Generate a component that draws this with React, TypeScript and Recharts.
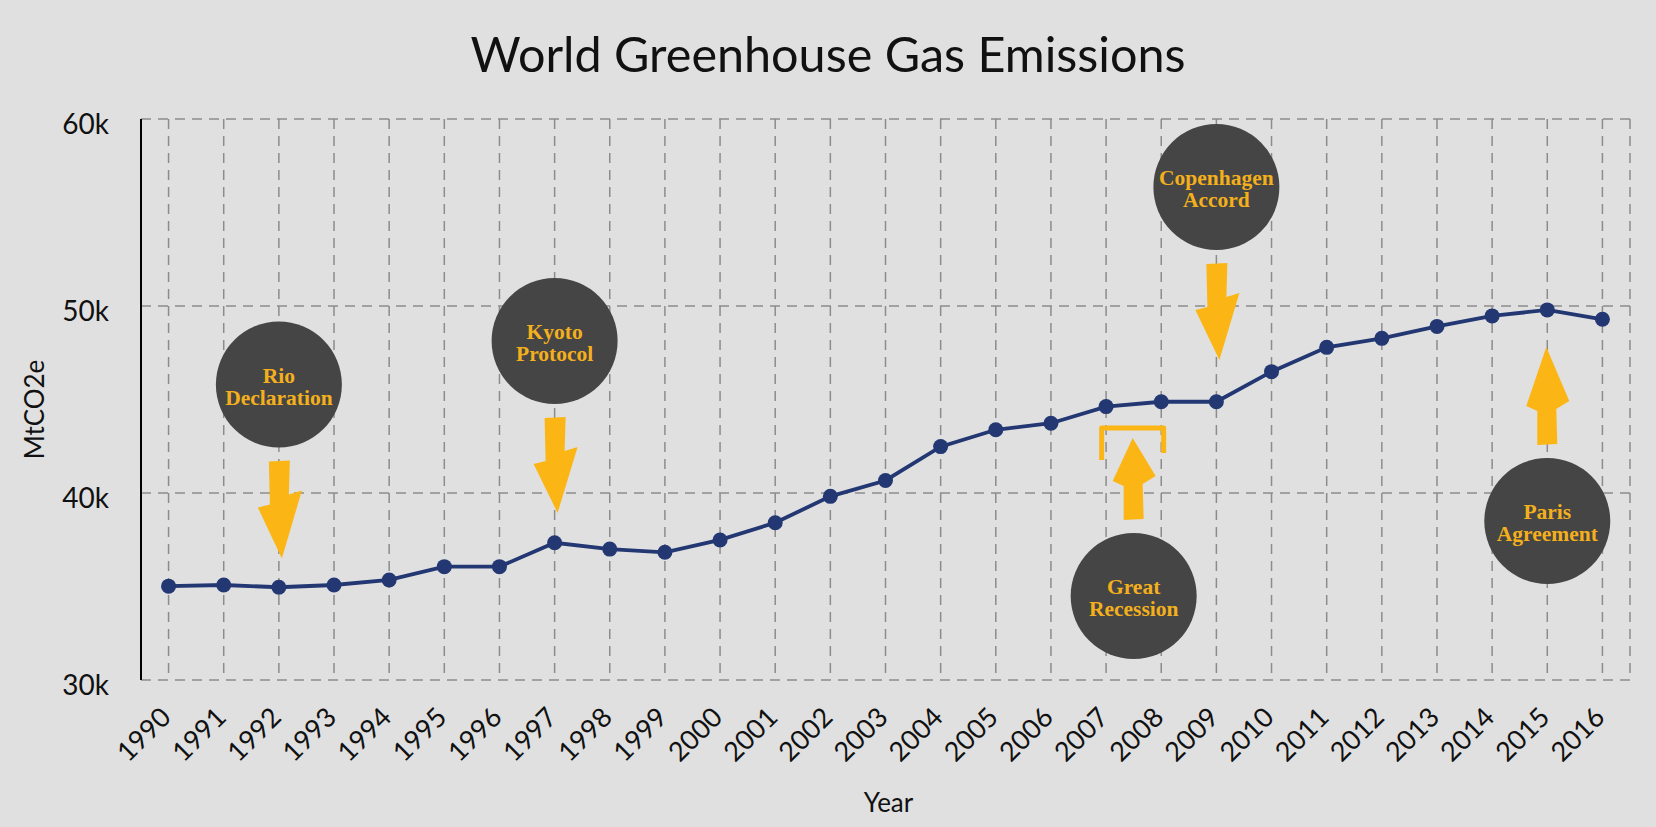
import { LineChart, Line, XAxis, YAxis, CartesianGrid, ReferenceDot, Label } from 'recharts';

const years = [
  1990, 1991, 1992, 1993, 1994, 1995, 1996, 1997, 1998, 1999, 2000, 2001, 2002, 2003,
  2004, 2005, 2006, 2007, 2008, 2009, 2010, 2011, 2012, 2013, 2014, 2015, 2016,
];
const emissions = [
  35020, 35080, 34960, 35080, 35350, 36060, 36060, 37340, 37000, 36830, 37490, 38410, 39820, 40670,
  42480, 43380, 43730, 44620, 44880, 44880, 46490, 47790, 48270, 48910, 49470, 49790, 49290,
];
const yTicks = [30000, 40000, 50000, 60000];

// milestone badges: text, where the badge sits (year, MtCO2e), arrow direction
const noteText = [
  ['Rio', 'Declaration'],
  ['Kyoto', 'Protocol'],
  ['Copenhagen', 'Accord'],
  ['Great', 'Recession'],
  ['Paris', 'Agreement'],
];
const noteYear = [1992, 1997, 2009, 2007.5, 2015];
const noteLevel = [45800, 48130, 56360, 34490, 38500];
const notePointsUp = [false, false, false, true, true];

const data = years.map((year, i) => ({ year, value: emissions[i] }));

const BG = '#e0e0e0';
const NAVY = '#233873';
const GOLD = '#fbb616';
const BADGE = '#454545';
const GRID = '#8c8c8c';
const FONT = 'Lato, sans-serif';

// arrow reach (px from badge centre to tip)
const arrowReach = [174, 172, 173, 158, 174];

function arrowPoints(up: boolean, reach: number) {
  return up
    ? [[-10, -76], [10, -77], [9, -112], [22, -120], [-1, -reach], [-21, -115], [-10, -110]]
    : [[-10, 77], [11, 76], [10, 110], [23, 106], [3, reach], [-21, 123], [-9, 120]];
}

function Badge(props: any) {
  const { cx, cy, idx } = props;
  const up = notePointsUp[idx];
  const pts = arrowPoints(up, arrowReach[idx])
    .map(([dx, dy]) => `${cx + dx},${cy + dy}`)
    .join(' ');
  const [l1, l2] = noteText[idx];
  return (
    <g>
      <circle cx={cx} cy={cy} r={63} fill={BADGE} />
      <text
        x={cx}
        y={cy - 2}
        textAnchor="middle"
        fill="#f4b01c"
        fontFamily="'Liberation Serif', serif"
        fontWeight="bold"
        fontSize={21.5}
      >
        <tspan x={cx}>{l1}</tspan>
        <tspan x={cx} dy={22}>{l2}</tspan>
      </text>
      <polygon points={pts} fill={GOLD} />
      {idx === 3 && (
        <path
          d={`M${cx - 32},${cy - 136} L${cx - 32},${cy - 168} L${cx + 30},${cy - 168} L${cx + 30},${cy - 143}`}
          fill="none"
          stroke={GOLD}
          strokeWidth={5}
          strokeLinejoin="round"
        />
      )}
    </g>
  );
}

function YearTick({ x, y, payload }: any) {
  return (
    <g transform={`translate(${x + 4},${y + 31})`}>
      <text textAnchor="end" transform="rotate(-45)" fontFamily={FONT} fontSize={27} fill="#111">
        {payload.value}
      </text>
    </g>
  );
}

function ValueTick({ x, y, payload }: any) {
  return (
    <text x={x} y={y + 15} textAnchor="end" fontFamily={FONT} fontSize={28} fill="#111">
      {`${payload.value / 1000}k`}
    </text>
  );
}

export default function App() {
  return (
    <div style={{ position: 'absolute', left: 0, top: 0, width: 1656, height: 827, background: BG }}>
      <div
        style={{
          position: 'absolute',
          left: 0,
          top: 29,
          width: 1656,
          textAlign: 'center',
          fontFamily: FONT,
          fontSize: 48.5,
          lineHeight: '48px',
          color: '#111',
        }}
      >
        World Greenhouse Gas Emissions
      </div>
      <LineChart
        width={1656}
        height={827}
        data={data}
        margin={{ top: 119, right: 26, bottom: 0, left: 0 }}
      >
        <CartesianGrid stroke={GRID} strokeWidth={1.5} strokeDasharray="10 7" />
        <XAxis
          dataKey="year"
          type="number"
          domain={[1989.5, 2016.5]}
          ticks={years}
          interval={0}
          height={147}
          axisLine={false}
          tickLine={false}
          tick={<YearTick />}
        >
          <Label
            content={({ viewBox }: any) => (
              <text
                x={viewBox.x + viewBox.width / 2 + 3}
                y={812}
                textAnchor="middle"
                fontFamily={FONT}
                fontSize={26}
                fill="#111"
              >
                Year
              </text>
            )}
          />
        </XAxis>
        <YAxis
          domain={[30000, 60000]}
          ticks={yTicks}
          width={141}
          axisLine={{ stroke: '#000', strokeWidth: 2 }}
          tickLine={false}
          tickMargin={26}
          tick={<ValueTick />}
        >
          <Label
            content={({ viewBox }: any) => {
              const cy = viewBox.y + viewBox.height / 2 + 10;
              return (
                <text
                  x={44}
                  y={cy}
                  textAnchor="middle"
                  transform={`rotate(-90, 44, ${cy})`}
                  fontFamily={FONT}
                  fontSize={26}
                  fill="#111"
                >
                  MtCO2e
                </text>
              );
            }}
          />
        </YAxis>
        <Line
          dataKey="value"
          stroke={NAVY}
          strokeWidth={3.8}
          dot={{ r: 7.5, fill: NAVY, stroke: NAVY, strokeWidth: 0 }}
          isAnimationActive={false}
        />
        {noteYear.map((yr, i) => (
          <ReferenceDot
            key={i}
            x={yr}
            y={noteLevel[i]}
            r={63}
            ifOverflow="visible"
            shape={(p: any) => <Badge {...p} idx={i} />}
          />
        ))}
      </LineChart>
    </div>
  );
}
